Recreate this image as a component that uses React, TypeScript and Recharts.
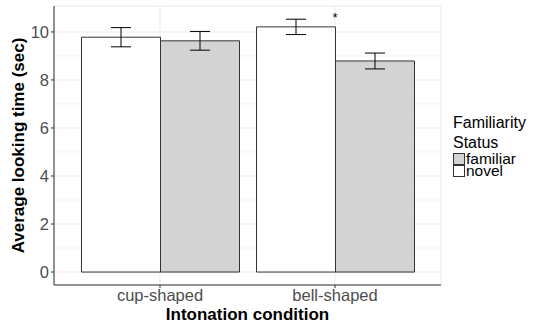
import React from 'react';
import {
  ComposedChart, Bar, XAxis, YAxis, CartesianGrid, ErrorBar, ReferenceDot,
} from 'recharts';

const categories = ['cup-shaped', 'bell-shaped'];
const novel = [9.78, 10.21];
const novelSe = [0.4, 0.32];
const familiar = [9.63, 8.79];
const familiarSe = [0.39, 0.33];
const yTicks = [0, 2, 4, 6, 8, 10];
const minorTicks = [1, 3, 5, 7, 9];
const legendItems = [
  { name: 'familiar', color: '#D3D3D3' },
  { name: 'novel', color: '#FFFFFF' },
];

const data = categories.map((c, i) => ({
  cond: c,
  novel: novel[i],
  novelSe: novelSe[i],
  familiar: familiar[i],
  familiarSe: familiarSe[i],
}));

const font = '"Liberation Sans", Arial, Helvetica, sans-serif';
const yDomain = [-0.54, 11.08];

export default function App() {
  return (
    <div style={{ position: 'absolute', left: 0, top: 0, width: 533, height: 323, background: '#fff', fontFamily: font }}>
      <ComposedChart
        width={533}
        height={323}
        data={data}
        margin={{ top: 6, right: 92, bottom: 0, left: 10 }}
        barGap={0}
      >
        {/* minor grid first, then major grid */}
        <CartesianGrid yAxisId="minor" vertical={false} stroke="#F3F3F3" strokeWidth={0.8} />
        <CartesianGrid stroke="#EBEBEB" strokeWidth={1.1} />
        <XAxis
          dataKey="cond"
          height={38}
          padding={{ left: 18.5, right: 18.5 }}
          axisLine={{ stroke: '#333333', strokeWidth: 1 }}
          tickLine={{ stroke: '#333333' }}
          tickSize={3}
          tickMargin={1}
          tick={{ fill: '#4D4D4D', fontSize: 16.5, fontFamily: font }}
          label={{ value: 'Intonation condition', position: 'insideBottom', offset: 3, fill: '#000', fontSize: 17, fontWeight: 'bold', fontFamily: font }}
        />
        <XAxis xAxisId="top" dataKey="cond" orientation="top" height={0} tick={false} tickLine={false} axisLine={{ stroke: '#333333' }} />
        <YAxis
          type="number"
          domain={yDomain}
          ticks={yTicks}
          width={44}
          allowDataOverflow
          axisLine={{ stroke: '#333333', strokeWidth: 1 }}
          tickLine={{ stroke: '#333333' }}
          tickSize={3}
          tickMargin={2}
          tick={{ fill: '#4D4D4D', fontSize: 16.5, fontFamily: font }}
          label={{ value: 'Average looking time (sec)', angle: -90, position: 'insideLeft', offset: 0, dx: 8, style: { textAnchor: 'middle' }, fill: '#000', fontSize: 17, fontWeight: 'bold', fontFamily: font }}
        />
        <YAxis yAxisId="minor" type="number" hide width={0} domain={yDomain} ticks={minorTicks} allowDataOverflow />
        <YAxis yAxisId="right" orientation="right" width={0} domain={yDomain} tick={false} tickLine={false} axisLine={{ stroke: '#333333' }} />
        <Bar dataKey="novel" barSize={79} fill="#FFFFFF" stroke="#333333" strokeWidth={1} isAnimationActive={false}>
          <ErrorBar dataKey="novelSe" width={10} stroke="#000" strokeWidth={1} isAnimationActive={false} />
        </Bar>
        <Bar dataKey="familiar" barSize={79} fill="#D3D3D3" stroke="#333333" strokeWidth={1} isAnimationActive={false}>
          <ErrorBar dataKey="familiarSe" width={10} stroke="#000" strokeWidth={1} isAnimationActive={false} />
        </Bar>
        <ReferenceDot
          x="bell-shaped"
          y={10.72}
          r={0}
          ifOverflow="visible"
          label={{ value: '*', position: 'center', fill: '#000', fontSize: 13, dy: 3 }}
        />
      </ComposedChart>
      <div style={{ position: 'absolute', left: 453, top: 113, fontSize: 16, color: '#000', lineHeight: '20px' }}>
        <div>Familiarity</div>
        <div>Status</div>
        {legendItems.map((it) => (
          <div key={it.name} style={{ display: 'flex', alignItems: 'center', height: 12, lineHeight: '12px', fontSize: 15.5 }}>
            <span style={{ display: 'inline-block', width: 10, height: 10, background: it.color, border: '1px solid #333' }} />
            <span style={{ marginLeft: 1 }}>{it.name}</span>
          </div>
        ))}
      </div>
    </div>
  );
}
